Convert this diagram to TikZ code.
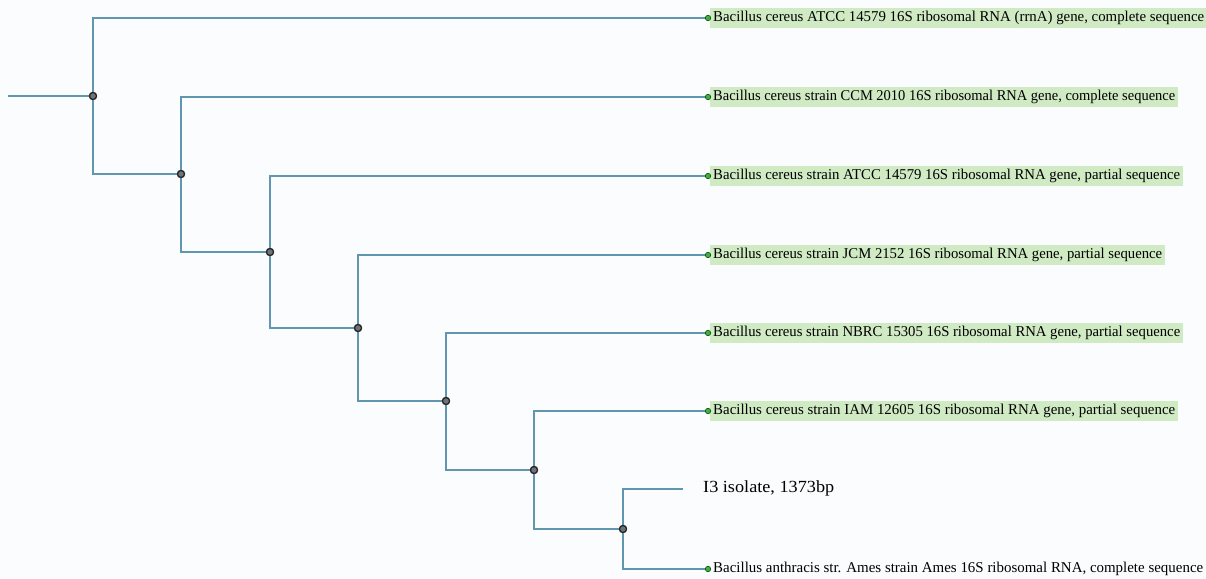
\documentclass[tikz,border=0pt]{standalone}
\usepackage{fontspec}
\setmainfont{Liberation Serif}
\usepackage{graphicx}
\definecolor{branchc}{RGB}{96,150,175}
\definecolor{hlc}{RGB}{208,234,196}
\definecolor{dotc}{RGB}{70,170,70}
\definecolor{bgc}{RGB}{251,252,254}
\definecolor{nodec}{RGB}{110,115,120}
\tikzset{
  branch/.style={draw=branchc, line width=1.4pt},
  inner/.style={circle, draw=black!85, fill=nodec, line width=1.2pt, minimum size=7pt, inner sep=0pt},
  tip/.style={coordinate},
  leafdot/.style={circle, draw=green!35!black, fill=dotc, line width=0.6pt, minimum size=5.5pt, inner sep=0pt},
  lab/.style={anchor=west, inner xsep=3pt, inner ysep=2.5pt, text height=11pt, text depth=3.5pt, font=\fontsize{15}{17}\selectfont, text=black},
  hl/.style={lab, fill=hlc},
}
\newcommand{\fitw}[2]{\resizebox{#1}{\height}{#2}}
\begin{document}
\begin{tikzpicture}[x=1pt, y=-1pt]
\fill[bgc] (0,0) rectangle (1206,578);
\useasboundingbox (0,0) rectangle (1206,578);
% tips
\coordinate (root) at (8,96);
\node[tip] (l1) at (707,18) {};
\node[tip] (l2) at (707,97) {};
\node[tip] (l3) at (707,176) {};
\node[tip] (l4) at (707,255) {};
\node[tip] (l5) at (707,333) {};
\node[tip] (l6) at (707,411) {};
\node[tip] (l7) at (683,489) {};
\node[tip] (l8) at (707,569) {};
% internal nodes
\node[inner] (n1) at (93,96) {};
\node[inner] (n2) at (181,174) {};
\node[inner] (n3) at (270,252) {};
\node[inner] (n4) at (358,328) {};
\node[inner] (n5) at (446,401) {};
\node[inner] (n6) at (534,470) {};
\node[inner] (n7) at (623,529) {};
% branches
\draw[branch] (root) -- (n1);
\draw[branch] (n1) |- (l1);
\draw[branch] (n1) |- (n2);
\draw[branch] (n2) |- (l2);
\draw[branch] (n2) |- (n3);
\draw[branch] (n3) |- (l3);
\draw[branch] (n3) |- (n4);
\draw[branch] (n4) |- (l4);
\draw[branch] (n4) |- (n5);
\draw[branch] (n5) |- (l5);
\draw[branch] (n5) |- (n6);
\draw[branch] (n6) |- (l6);
\draw[branch] (n6) |- (n7);
\draw[branch] (n7) |- (l7);
\draw[branch] (n7) |- (l8);
% internal nodes on top of the branches
\foreach \n in {n1,n2,n3,n4,n5,n6,n7}
  \node[inner] at (\n) {};
% labels
\node[hl] (t1) at (710,18) {\fitw{491pt}{Bacillus cereus ATCC 14579 16S ribosomal RNA (rrnA) gene, complete sequence}};
\node[hl] (t2) at (710,97) {\fitw{462pt}{Bacillus cereus strain CCM 2010 16S ribosomal RNA gene, complete sequence}};
\node[hl] (t3) at (710,176) {\fitw{467pt}{Bacillus cereus strain ATCC 14579 16S ribosomal RNA gene, partial sequence}};
\node[hl] (t4) at (710,255) {\fitw{449pt}{Bacillus cereus strain JCM 2152 16S ribosomal RNA gene, partial sequence}};
\node[hl] (t5) at (710,333) {\fitw{467pt}{Bacillus cereus strain NBRC 15305 16S ribosomal RNA gene, partial sequence}};
\node[hl] (t6) at (710,411) {\fitw{462pt}{Bacillus cereus strain IAM 12605 16S ribosomal RNA gene, partial sequence}};
\node[lab, font=\fontsize{17}{19}\selectfont] (t7) at (700,489) {\fitw{131pt}{I3 isolate, 1373bp}};
\node[lab] (t8) at (710,569) {\fitw{490pt}{Bacillus anthracis str. Ames strain Ames 16S ribosomal RNA, complete sequence}};
% leaf dots
\foreach \l in {l1,l2,l3,l4,l5,l6,l8}
  \node[leafdot] at ([xshift=1pt]\l) {};
\end{tikzpicture}
\end{document}
